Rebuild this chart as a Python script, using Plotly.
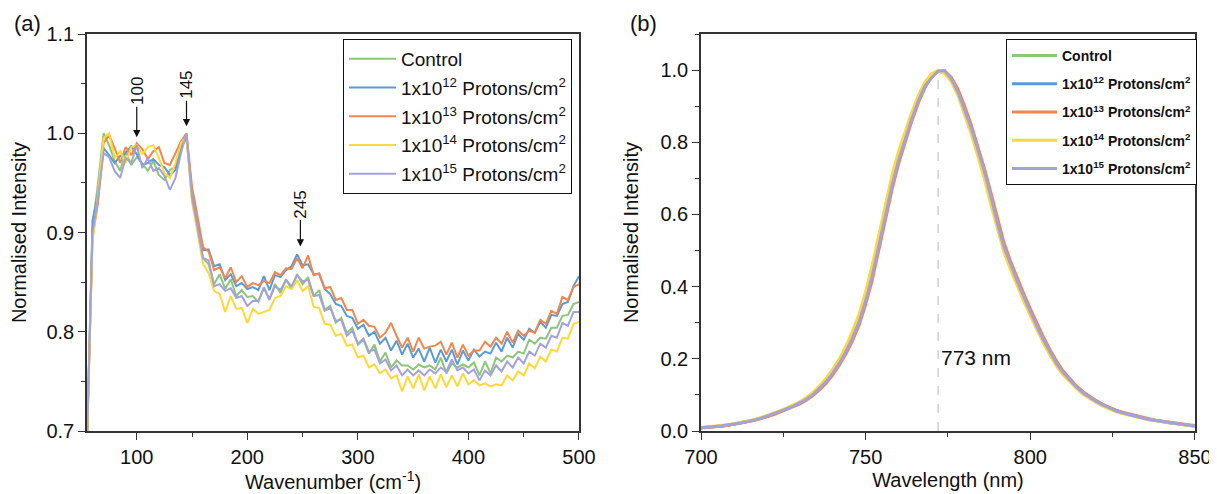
import plotly.graph_objects as go

# ---- panel (a): low-frequency Raman, normalised ----
wavenumber = list(range(55, 505, 5))

raman_control = [
    0.69, 0.905, 0.95, 1.0, 0.988, 0.972, 0.962, 0.982, 0.968, 0.976,
    0.97, 0.962, 0.972, 0.958, 0.953, 0.963, 0.966, 0.986, 0.995, 0.935,
    0.903, 0.874, 0.868, 0.848, 0.858, 0.843, 0.853, 0.836, 0.842, 0.835,
    0.836, 0.83, 0.845, 0.832, 0.848, 0.839, 0.853, 0.843, 0.858, 0.848,
    0.855, 0.836, 0.842, 0.822, 0.826, 0.809, 0.814, 0.799, 0.804, 0.787,
    0.792, 0.778, 0.787, 0.77, 0.779, 0.764, 0.771, 0.766, 0.766, 0.762,
    0.767, 0.764, 0.766, 0.762, 0.774, 0.758, 0.768, 0.764, 0.767, 0.764,
    0.769, 0.756, 0.77, 0.758, 0.774, 0.77, 0.776, 0.774, 0.78, 0.778,
    0.792, 0.788, 0.794, 0.793, 0.804, 0.804, 0.816, 0.817, 0.828, 0.83,
]
raman_1e12 = [
    0.69, 0.912, 0.94, 0.985, 0.978, 0.97, 0.977, 0.98, 0.987, 0.979,
    0.968, 0.97, 0.974, 0.968, 0.966, 0.958, 0.963, 0.985, 0.998, 0.94,
    0.91, 0.882, 0.883, 0.866, 0.868, 0.852, 0.858, 0.846, 0.849, 0.843,
    0.845, 0.842, 0.856, 0.842, 0.857, 0.855, 0.862, 0.866, 0.878, 0.867,
    0.868, 0.858, 0.858, 0.843, 0.838, 0.828, 0.826, 0.816, 0.814, 0.803,
    0.807, 0.796, 0.8, 0.788, 0.794, 0.781, 0.791, 0.777, 0.788, 0.774,
    0.783, 0.77, 0.784, 0.769, 0.782, 0.77, 0.782, 0.767, 0.781, 0.771,
    0.782, 0.775, 0.78, 0.778, 0.789, 0.78, 0.794, 0.784, 0.798, 0.792,
    0.803, 0.799, 0.81, 0.804, 0.817, 0.816, 0.828, 0.83, 0.846, 0.856,
]
raman_1e13 = [
    0.69, 0.895, 0.93, 0.99, 0.998, 0.985, 0.97, 0.986, 0.978, 0.99,
    0.984, 0.974, 0.982, 0.986, 0.97, 0.968, 0.98, 0.992, 1.0, 0.946,
    0.916, 0.885, 0.881, 0.862, 0.865, 0.854, 0.865, 0.85, 0.856, 0.845,
    0.849, 0.847, 0.851, 0.849, 0.86, 0.857, 0.864, 0.863, 0.874, 0.864,
    0.877, 0.857, 0.859, 0.844, 0.845, 0.832, 0.834, 0.822, 0.822, 0.808,
    0.812, 0.806, 0.805, 0.794, 0.799, 0.809, 0.796, 0.784, 0.794, 0.78,
    0.794, 0.783, 0.785, 0.786, 0.79, 0.777, 0.789, 0.774, 0.787, 0.776,
    0.781, 0.781, 0.79, 0.785, 0.794, 0.788, 0.8, 0.789, 0.801, 0.796,
    0.801, 0.799, 0.812, 0.808, 0.821, 0.818, 0.835, 0.832, 0.845, 0.848,
]
raman_1e14 = [
    0.69, 0.89, 0.94, 0.995, 1.0, 0.975, 0.982, 0.97, 0.986, 0.988,
    0.979, 0.986, 0.988, 0.975, 0.96, 0.955, 0.97, 0.99, 0.997, 0.93,
    0.9, 0.868, 0.859, 0.841, 0.838, 0.82, 0.836, 0.823, 0.824, 0.809,
    0.823, 0.818, 0.82, 0.822, 0.834, 0.836, 0.846, 0.843, 0.852, 0.841,
    0.846, 0.825, 0.824, 0.808, 0.807, 0.796, 0.798, 0.786, 0.787, 0.774,
    0.776, 0.764, 0.767, 0.758, 0.762, 0.753, 0.756, 0.74, 0.755, 0.743,
    0.757, 0.741, 0.755, 0.743, 0.757, 0.744, 0.756, 0.745, 0.758, 0.747,
    0.751, 0.746, 0.748, 0.745, 0.747, 0.746, 0.756, 0.751, 0.76, 0.756,
    0.768, 0.763, 0.775, 0.77, 0.782, 0.78, 0.794, 0.793, 0.808, 0.81,
]
raman_1e15 = [
    0.69, 0.9, 0.935, 0.98, 0.976, 0.962, 0.955, 0.975, 0.97, 0.988,
    0.965, 0.975, 0.962, 0.965, 0.957, 0.943, 0.955, 0.98, 1.0, 0.935,
    0.905, 0.874, 0.872, 0.846, 0.848, 0.841, 0.844, 0.834, 0.836, 0.826,
    0.831, 0.831, 0.844, 0.833, 0.846, 0.842, 0.852, 0.846, 0.857, 0.851,
    0.852, 0.836, 0.837, 0.821, 0.824, 0.811, 0.812, 0.796, 0.801, 0.788,
    0.793, 0.78, 0.782, 0.768, 0.772, 0.761, 0.766, 0.756, 0.762, 0.756,
    0.761, 0.756, 0.762, 0.758, 0.764, 0.76, 0.772, 0.761, 0.764, 0.758,
    0.762, 0.751, 0.761, 0.756, 0.766, 0.76, 0.77, 0.764, 0.774, 0.768,
    0.78, 0.776, 0.788, 0.784, 0.796, 0.794, 0.809, 0.806, 0.82, 0.82,
]

# ---- panel (b): photoluminescence, normalised ----
wavelength = list(range(700, 852, 2))

pl_control = [
    0.009, 0.010, 0.012, 0.014, 0.016, 0.019, 0.022, 0.026, 0.030, 0.035,
    0.041, 0.047, 0.054, 0.061, 0.069, 0.077, 0.088, 0.101, 0.118, 0.137,
    0.160, 0.188, 0.220, 0.258, 0.302, 0.36, 0.43, 0.515, 0.60, 0.68,
    0.75, 0.81, 0.865, 0.915, 0.955, 0.982, 0.998, 0.993, 0.975, 0.94,
    0.892, 0.84, 0.782, 0.72, 0.65, 0.575, 0.51, 0.46, 0.415, 0.372,
    0.33, 0.29, 0.252, 0.218, 0.186, 0.161, 0.14, 0.122, 0.106, 0.093,
    0.082, 0.072, 0.063, 0.056, 0.05, 0.045, 0.04, 0.036, 0.032, 0.029,
    0.026, 0.023, 0.02, 0.018, 0.016, 0.014,
]
pl_1e12 = [
    0.009, 0.010, 0.012, 0.014, 0.016, 0.019, 0.022, 0.025, 0.030, 0.035,
    0.040, 0.047, 0.054, 0.061, 0.068, 0.077, 0.088, 0.1, 0.117, 0.136,
    0.159, 0.187, 0.219, 0.257, 0.301, 0.358, 0.428, 0.512, 0.597, 0.678,
    0.748, 0.808, 0.864, 0.913, 0.954, 0.984, 0.997, 0.994, 0.976, 0.942,
    0.894, 0.842, 0.785, 0.722, 0.652, 0.577, 0.512, 0.462, 0.417, 0.374,
    0.332, 0.292, 0.254, 0.22, 0.188, 0.162, 0.141, 0.123, 0.107, 0.094,
    0.083, 0.073, 0.064, 0.057, 0.051, 0.046, 0.041, 0.037, 0.033, 0.03,
    0.026, 0.023, 0.021, 0.018, 0.016, 0.014,
]
pl_1e13 = [
    0.008, 0.009, 0.011, 0.013, 0.015, 0.018, 0.021, 0.025, 0.029, 0.034,
    0.039, 0.045, 0.052, 0.059, 0.066, 0.075, 0.085, 0.098, 0.114, 0.132,
    0.155, 0.182, 0.213, 0.25, 0.293, 0.35, 0.418, 0.502, 0.587, 0.668,
    0.74, 0.802, 0.858, 0.909, 0.951, 0.982, 0.997, 0.996, 0.98, 0.948,
    0.902, 0.85, 0.793, 0.73, 0.662, 0.588, 0.522, 0.471, 0.425, 0.381,
    0.339, 0.298, 0.26, 0.225, 0.193, 0.166, 0.144, 0.125, 0.109, 0.096,
    0.084, 0.074, 0.065, 0.058, 0.052, 0.047, 0.042, 0.038, 0.034, 0.03,
    0.027, 0.024, 0.021, 0.019, 0.017, 0.015,
]
pl_1e14 = [
    0.010, 0.011, 0.013, 0.015, 0.017, 0.020, 0.023, 0.027, 0.031, 0.037,
    0.043, 0.049, 0.056, 0.064, 0.072, 0.081, 0.093, 0.107, 0.125, 0.146,
    0.171, 0.2, 0.235, 0.276, 0.324, 0.386, 0.46, 0.545, 0.63, 0.708,
    0.775, 0.832, 0.883, 0.93, 0.966, 0.99, 0.999, 0.99, 0.968, 0.93,
    0.878, 0.824, 0.764, 0.70, 0.628, 0.56, 0.495, 0.447, 0.402, 0.36,
    0.32, 0.281, 0.243, 0.21, 0.179, 0.155, 0.135, 0.118, 0.102, 0.09,
    0.079, 0.069, 0.061, 0.054, 0.048, 0.043, 0.039, 0.035, 0.031, 0.028,
    0.025, 0.022, 0.019, 0.017, 0.015, 0.013,
]
pl_1e15 = [
    0.009, 0.010, 0.012, 0.014, 0.017, 0.019, 0.022, 0.026, 0.030, 0.035,
    0.041, 0.047, 0.054, 0.061, 0.069, 0.078, 0.088, 0.101, 0.118, 0.137,
    0.16, 0.188, 0.22, 0.258, 0.302, 0.36, 0.43, 0.514, 0.6, 0.68,
    0.75, 0.81, 0.865, 0.915, 0.956, 0.978, 0.997, 0.999, 0.976, 0.94,
    0.892, 0.84, 0.782, 0.72, 0.65, 0.575, 0.51, 0.46, 0.415, 0.372,
    0.33, 0.29, 0.252, 0.218, 0.186, 0.161, 0.14, 0.122, 0.106, 0.093,
    0.082, 0.072, 0.063, 0.056, 0.05, 0.045, 0.04, 0.036, 0.032, 0.029,
    0.026, 0.023, 0.02, 0.018, 0.016, 0.014,
]

names = ["Control",
         "1x10<sup>12</sup> Protons/cm<sup>2</sup>",
         "1x10<sup>13</sup> Protons/cm<sup>2</sup>",
         "1x10<sup>14</sup> Protons/cm<sup>2</sup>",
         "1x10<sup>15</sup> Protons/cm<sup>2</sup>"]
colors = ["#8cc67a", "#5b9bd5", "#f4854d", "#ffd83a", "#a3a2da"]

peak_marks = [(100, 0.996, -46, "100"), (145, 1.007, -41, "145"), (248, 0.886, -42, "245")]
pl_peak = 772
pl_label = "773 nm"

FONT = "Liberation Sans, Arial, sans-serif"
W, H = 1217, 494
PAGE_PAD = 8  # the html body margin shifts the figure by this much


def px(x):
    return (x - PAGE_PAD) / W


def py(y):
    return 1 - (y - PAGE_PAD) / H


fig = go.Figure()

raman_sets = [raman_control, raman_1e12, raman_1e13, raman_1e14, raman_1e15]
for i, ys in enumerate(raman_sets):
    fig.add_trace(go.Scatter(x=wavenumber, y=ys, name=names[i], mode="lines",
                             line=dict(color=colors[i], width=2),
                             xaxis="x", yaxis="y", legend="legend",
                             legendgroup="a%d" % i))

pl_sets = [pl_control, pl_1e12, pl_1e13, pl_1e14, pl_1e15]
for i, ys in enumerate(pl_sets):
    fig.add_trace(go.Scatter(x=wavelength, y=ys, name=names[i], mode="lines",
                             line=dict(color=colors[i], width=3),
                             xaxis="x2", yaxis="y2", legend="legend2",
                             legendgroup="b%d" % i))

axis_common = dict(showline=True, linecolor="#333", linewidth=1.5, mirror=True,
                   ticks="outside", ticklen=7, tickwidth=1.2, tickcolor="#333",
                   showgrid=False, zeroline=False, automargin=False,
                   tickfont=dict(size=20, color="#111"),
                   title_font=dict(size=20, color="#111"))

fig.update_layout(
    width=W, height=H,
    margin=dict(l=0, r=0, t=0, b=0, autoexpand=False),
    paper_bgcolor="white", plot_bgcolor="white",
    font=dict(family=FONT, color="#111"),
    xaxis=dict(domain=[px(87), px(579)], range=[55, 500.01], dtick=100, tick0=0,
               minor=dict(ticks="outside", ticklen=4, dtick=50, tick0=0, tickcolor="#333"),
               title=dict(text="Wavenumber (cm<sup>-1</sup>)", standoff=6),
               anchor="y", **axis_common),
    yaxis=dict(domain=[py(431), py(34)], range=[0.7, 1.1], dtick=0.1, tick0=0.7,
               tickformat=".1f",
               minor=dict(ticks="outside", ticklen=4, dtick=0.05, tick0=0.7, tickcolor="#333"),
               title=dict(text="Normalised Intensity", standoff=14),
               anchor="x", **axis_common),
    xaxis2=dict(domain=[px(701), px(1195)], range=[700, 850.01], dtick=50, tick0=700,
                minor=dict(ticks="outside", ticklen=4, dtick=25, tick0=700, tickcolor="#333"),
                title=dict(text="Wavelength (nm)", standoff=6),
                anchor="y2", **axis_common),
    yaxis2=dict(domain=[py(431), py(34)], range=[0, 1.1], dtick=0.2, tick0=0,
                tickformat=".1f",
                minor=dict(ticks="outside", ticklen=4, dtick=0.1, tick0=0, tickcolor="#333"),
                title=dict(text="Normalised Intensity", standoff=16),
                anchor="x2", **axis_common),
    legend=dict(x=px(343), y=py(39), xanchor="left", yanchor="top",
                bgcolor="white", bordercolor="#111", borderwidth=1,
                font=dict(size=19, color="#111"), traceorder="grouped",
                tracegroupgap=1, itemwidth=47),
    legend2=dict(x=px(1006), y=py(39), xanchor="left", yanchor="top",
                 bgcolor="white", bordercolor="#111", borderwidth=1,
                 font=dict(size=14, color="#111", weight="bold"),
                 traceorder="grouped", tracegroupgap=7, itemwidth=45),
)

for xv, yv, ay, txt in peak_marks:
    fig.add_annotation(x=xv, y=yv, xref="x", yref="y", text=txt, textangle=-90,
                       showarrow=True, arrowhead=2, arrowsize=1.2, arrowwidth=1.2,
                       arrowcolor="#111", ax=0, ay=ay,
                       font=dict(size=17, color="#111"))

fig.add_shape(type="line", xref="x2", yref="y2", x0=pl_peak, x1=pl_peak, y0=0, y1=0.99,
              line=dict(color="#bbb", width=1, dash="dash"), layer="below")
fig.add_annotation(x=pl_peak + 0.3, y=0.205, xref="x2", yref="y2", text=pl_label,
                   showarrow=False, xanchor="left", font=dict(size=21, color="#111"))

fig.add_annotation(x=px(27), y=py(24), xref="paper", yref="paper", text="(a)",
                   xanchor="center", yanchor="middle",
                   showarrow=False, font=dict(size=22, color="#111"))
fig.add_annotation(x=px(643), y=py(24), xref="paper", yref="paper", text="(b)",
                   xanchor="center", yanchor="middle",
                   showarrow=False, font=dict(size=22, color="#111"))

fig.write_html("out.html")
